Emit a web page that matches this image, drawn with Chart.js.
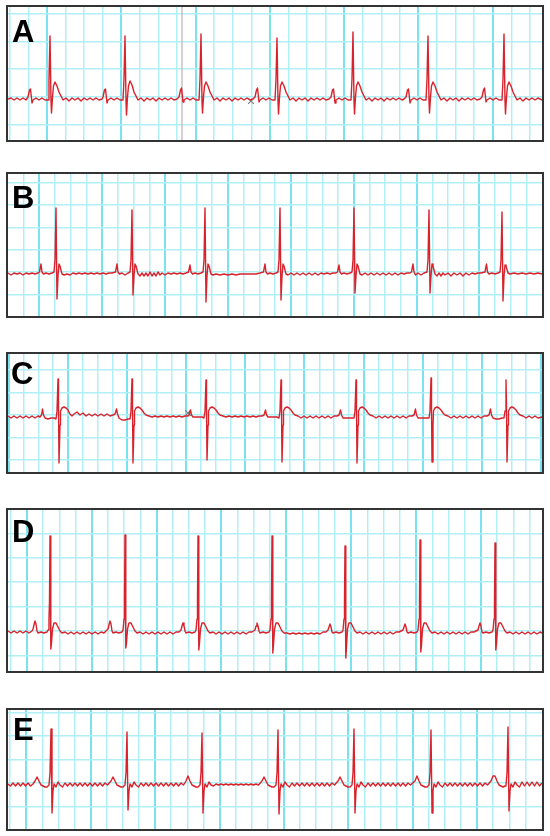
<!DOCTYPE html>
<html>
<head>
<meta charset="utf-8">
<title>ECG strips A-E</title>
<script src="https://cdn.jsdelivr.net/npm/chart.js@4.4.1/dist/chart.umd.min.js"></script>
<style>
  body { margin: 0; background: #fff; }
  .strip { position: absolute; left: 6px; width: 538px; border: 2px solid #333; box-sizing: border-box; background: #fff; }
  .strip canvas { display: block; }
</style>
</head>
<body>
<div class="strip" style="top:5px;height:137px"><canvas id="A" width="534" height="133"></canvas></div>
<div class="strip" style="top:172px;height:146px"><canvas id="B" width="534" height="142"></canvas></div>
<div class="strip" style="top:352px;height:122px"><canvas id="C" width="534" height="118"></canvas></div>
<div class="strip" style="top:508px;height:165px"><canvas id="D" width="534" height="161"></canvas></div>
<div class="strip" style="top:708px;height:123px"><canvas id="E" width="534" height="119"></canvas></div>

<script>
// traces: [sample, amplitude]
const traceA = [
  [8,-2],[11,-1],[14,-3],[17,-1],[20,-3],[23,-1],[26,-3],[28,0],[29.5,7],[30.5,8],[32,-6],[33,-3],[36,-1],[39,-3],[42,-1],[45,-3],[48,-3],
  [49,18],[50,61],[51,-4],[51.5,-16],[52.5,0],[53.5,11],[55,15],[57,11],[59,5],[61,1],[63,-3],
  [66,-1],[69,-4],[72,-1],[75,-3],[78,-1],[81,-4],[84,-1],[87,-3],[90,-1],[93,-3],[96,-1],[99,-3],[102,-2],
  [103,0],[104.5,7],[105.5,8],[107,-6],[108,-3],[111,-1],[114,-3],[117,-1],[120,-3],[123,-3],
  [124,18],[125,61],[126,-4],[126.5,-18],[127.5,0],[128.5,11],[130,16],[132,12],[134,5],[136,1],[138,-3],
  [141,-1],[144,-4],[147,-1],[150,-3],[153,-1],[156,-4],[159,-1],[162,-3],[165,-1],[168,-3],[171,-1],[174,-3],[177,-2],
  [179,0],[180.5,7],[181.5,9],[183,-5],[184,-3],[187,-1],[190,-3],[193,-1],[196,-3],[199,-3],
  [200,18],[201,63],[202,-4],[202.5,-16],[203.5,0],[204.5,11],[206,15],[208,11],[210,5],[212,1],[214,-3],
  [217,-1],[220,-4],[223,-1],[226,-3],[229,-1],[232,-4],[235,-1],[238,-3],[241,-1],[244,-3],[247,-1],[250,-3],[253,-2],
  [255,0],[256.5,7],[257.5,9],[259,-5],[260,-3],[263,-1],[266,-3],[269,-1],[272,-3],[275,-3],
  [276,18],[277,59],[278,-4],[278.5,-17],[279.5,0],[280.5,11],[282,15],[284,11],[286,5],[288,1],[290,-3],
  [293,-1],[296,-4],[299,-1],[302,-3],[305,-1],[308,-4],[311,-1],[314,-3],[317,-1],[320,-3],[323,-1],[326,-3],[329,-2],
  [331,0],[332.5,7],[333.5,8],[335,-6],[336,-3],[339,-1],[342,-3],[345,-1],[348,-3],[351,-3],
  [352,18],[353,65],[354,-4],[354.5,-17],[355.5,0],[356.5,11],[358,15],[360,11],[362,5],[364,1],[366,-3],
  [369,-1],[372,-4],[375,-1],[378,-3],[381,-1],[384,-4],[387,-1],[390,-3],[393,-1],[396,-3],[399,-1],[402,-3],[404,-2],
  [406,0],[407.5,7],[408.5,8],[410,-6],[411,-3],[414,-1],[417,-3],[420,-1],[423,-3],[426,-3],
  [427,18],[428,61],[429,-4],[429.5,-16],[430.5,0],[431.5,11],[433,15],[435,11],[437,5],[439,1],[441,-3],
  [444,-1],[447,-4],[450,-1],[453,-3],[456,-1],[459,-4],[462,-1],[465,-3],[468,-1],[471,-3],[474,-1],[477,-3],[480,-2],
  [482,0],[483.5,7],[484.5,9],[486,-5],[487,-3],[490,-1],[493,-3],[496,-1],[499,-3],[502,-3],
  [503,18],[504,63],[505,-4],[505.5,-17],[506.5,0],[507.5,11],[509,15],[511,11],[513,5],[515,1],[517,-3],
  [520,-1],[523,-4],[526,-1],[529,-3],[532,-1],[535,-3],[538,-1],[542,-3]
];

const traceB = [
  [8,-1],[11,-3],[14,-1],[17,-2],[20,-1],[23,-3],[26,-1],[29,-2],[32,-1],[35,-2],[38,-1],
  [39.5,0],[41,8],[42,0],[43.5,-2],[46,-1],[49,-2],[52,-1],[54,0],
  [55,12],[56,64],[57,-27],[58,-4],[59,8],[60,6],[62,-2],[64,-3],[67,-2],[70,-3],[73,-1],[76,-2],[79,-1],[82,-2],[85,-1],[88,-2],[91,-1],[94,-2],[97,-1],[100,-2],[103,-1],[106,-2],[109,-1],[112,-1],
  [115.5,0],[117,8],[118,0],[119.5,-2],[122,-1],[125,-3],[128,-1],[130,0],
  [131,12],[132,62],[133,-23],[134,-4],[135,8],[136,6],[138,-2],[140,-4],[142,-1],[144,-4],[146,-1],[148,-4],[150,0],[152,-4],[154,-1],[156,-4],[158,0],[160,-3],[162,-1],[165,-3],[168,-1],[171,-2],[174,-1],[177,-2],[180,-1],[183,-2],[186,-1],
  [188.5,0],[190,7],[191,0],[192.5,-2],[195,-1],[198,-2],[201,-1],[203,0],
  [204,12],[205,64],[206,-30],[207,-4],[208,8],[209,6],[211,-2],[213,-3],[216,-2],[220,-3],[224,-2],[228,-3],[232,-2],[236,-3],[240,-2],[244,-2],[248,-2],[252,-2],[256,-2],[260,-1],
  [263.5,0],[265,8],[266,0],[267.5,-2],[270,-1],[273,-2],[276,-1],[278,0],
  [279,12],[280,64],[281,-28],[282,-4],[283,8],[284,6],[286,-2],[288,-3],[291,-1],[294,-3],[297,-1],[300,-3],[303,-1],[306,-3],[309,-1],[312,-3],[315,-1],[318,-3],[321,-1],[324,-2],[327,-1],[330,-2],[333,-1],[336,-1],
  [337.5,0],[339,7],[340,0],[341.5,-2],[344,-1],[347,-2],[350,-1],[352,0],
  [353,12],[354,64],[355,-21],[356,-4],[357,8],[358,6],[360,-2],[362,-3],[365,-1],[368,-3],[371,-1],[374,-3],[377,-1],[380,-3],[383,-1],[386,-3],[389,-1],[392,-3],[395,-1],[398,-3],[401,-1],[404,-2],[407,-1],[410,-1],
  [411.5,0],[413,8],[414,0],[415.5,-3],[418,-1],[421,-3],[424,-1],[427,0],
  [428,12],[429,62],[430,-21],[431,-4],[432,8],[433,6],[435,-2],[437,-4],[439,-1],[441,-4],[443,-1],[445,-3],[448,-1],[451,-4],[454,-1],[457,-3],[460,-1],[463,-4],[466,-1],[469,-3],[472,-1],[475,-2],[478,-1],[481,-1],
  [485,0],[486.5,8],[487.5,0],[489,-2],[492,-1],[495,-2],[498,-1],[500,0],
  [501,12],[502,60],[503,-29],[504,-4],[505,7],[506,6],[508,-1],[510,-2],[514,-1],[518,-2],[522,-1],[526,-2],[530,-1],[534,-2],[538,-1],[542,-2]
];

const traceC = [
  [8,-1],[11,-3],[14,-1],[17,-3],[20,-1],[23,-3],[26,-1],[29,-3],[32,-1],[35,-3],[38,-1],[40,-2],
  [41.5,0],[42.5,6],[43.5,0],[45,-3],[48,-4],[51,-3],[54,-3],
  [56,-4],[57,4],[58,36],[58.5,8],[59,-48],[60,-10],[60.5,4],[62,7],[64,8],[66,7],[68,5],[70,1],[72,-1],
  [74,1],[77,3],[80,0],[83,2],[86,-1],[89,1],[92,-1],[95,1],[98,-1],[101,1],[104,-1],[107,1],[110,-1],[113,0],
  [115,1],[116.5,6],[117.5,1],[119,-3],[122,-5],[125,-5],[128,-4],
  [130,-4],[131,4],[132,36],[132.5,8],[133,-48],[134,-10],[134.5,4],[136,7],[138,8],[140,7],[142,5],[144,2],[146,0],
  [149,-1],[152,-2],[155,-1],[158,-2],[161,-1],[164,-2],[167,-1],[170,-2],[173,-1],[176,-2],[179,-1],[182,-2],[185,-1],[188,-1],
  [189,0],[190.5,5],[191.5,0],[193,-2],[196,-2],[199,-2],[202,-2],
  [204,-3],[205,4],[206,35],[206.5,8],[207,-45],[208,-10],[208.5,4],[210,7],[212,8],[214,7],[216,5],[218,2],[220,0],
  [223,-1],[226,-2],[229,-1],[232,-2],[235,-1],[238,-2],[241,-1],[244,-2],[247,-1],[250,-2],[253,-1],[256,-2],[259,-1],[262,-1],
  [264,0],[265.5,5],[266.5,0],[268,-2],[271,-2],[274,-2],[277,-2],
  [279,-3],[280,4],[281,35],[281.5,8],[282,-47],[283,-10],[283.5,4],[285,7],[287,8],[289,7],[291,5],[293,2],[295,0],
  [298,-1],[301,-3],[304,-1],[307,-3],[310,-1],[313,-3],[316,-1],[319,-3],[322,-1],[325,-3],[328,-1],[331,-3],[334,-1],[337,-1],
  [339,0],[340.5,5],[341.5,0],[343,-3],[346,-3],[349,-3],[352,-3],
  [354,-3],[355,4],[356,35],[356.5,8],[357,-48],[358,-10],[358.5,4],[360,7],[362,8],[364,7],[366,5],[368,2],[370,0],
  [373,-1],[376,-3],[379,-1],[382,-3],[385,-1],[388,-3],[391,-1],[394,-3],[397,-1],[400,-3],[403,-1],[406,-3],[409,-1],[412,-1],
  [414,0],[415.5,6],[416.5,0],[418,-3],[421,-3],[424,-3],[427,-3],
  [429,-3],[430,4],[431,37],[431.5,8],[432,-47],[433,-10],[433.5,4],[435,7],[437,8],[439,7],[441,5],[443,2],[445,0],
  [448,-1],[451,-3],[454,-1],[457,-3],[460,-1],[463,-3],[466,-1],[469,-3],[472,-1],[475,-3],[478,-1],[481,-3],[484,-1],[487,-1],
  [489,0],[490.5,6],[491.5,0],[493,-3],[496,-4],[499,-4],[502,-3],
  [504,-3],[505,4],[506,35],[506.5,8],[507,-47],[508,-10],[508.5,4],[510,7],[512,8],[514,7],[516,5],[518,2],[520,0],
  [523,-1],[526,-3],[529,-1],[532,-3],[535,-1],[538,-3],[542,-2]
];

const traceD = [
  [8,0],[11,-2],[14,0],[17,-2],[20,0],[23,-2],[26,0],[29,-2],[32,0],
  [33,2],[34,6],[35,10],[36,7],[37,0],[38,-2],[41,-1],[44,-2],[47,-1],
  [48,1],[49,12],[49.5,30],[50,95],[50.8,-18],[51.5,-12],[52.5,2],[54,8],[56,8],[58,4],[60,0],[62,-2],
  [65,-1],[68,-3],[71,-1],[74,-3],[77,-1],[80,-3],[83,-1],[86,-3],[89,-1],[92,-3],[95,-1],[98,-3],[101,-1],[104,-2],[106,0],
  [108,2],[109,6],[110,10],[111,7],[112,0],[113,-2],[116,-1],[119,-2],[122,-1],
  [123,1],[124,12],[124.5,30],[125,96],[125.8,-17],[126.5,-12],[127.5,2],[129,8],[131,8],[133,4],[135,0],[137,-2],
  [140,-1],[143,-3],[146,-1],[149,-3],[152,-1],[155,-3],[158,-1],[161,-3],[164,-1],[167,-3],[170,-1],[173,-3],[176,-1],[179,-1],
  [181,1],[182,5],[183,8],[184,5],[185,0],[186,-2],[189,-1],[192,-2],[195,-1],
  [196,1],[197,12],[197.5,30],[198,95],[198.8,-19],[199.5,-12],[200.5,2],[202,8],[204,8],[206,4],[208,0],[210,-2],
  [213,-1],[216,-3],[219,-1],[222,-3],[225,-1],[228,-3],[231,-1],[234,-3],[237,-1],[240,-3],[243,-1],[246,-3],[249,-1],[252,-1],
  [255,1],[256,5],[257,8],[258,5],[259,0],[260,-2],[263,-1],[266,-2],[269,-1],
  [270,1],[271,12],[271.5,30],[272,95],[272.8,-22],[273.5,-14],[274.5,2],[276,8],[278,8],[280,4],[282,0],[284,-2],
  [287,-2],[290,-3],[293,-2],[296,-3],[299,-2],[302,-3],[305,-2],[308,-3],[311,-2],[314,-3],[317,-2],[320,-3],[323,-1],[326,-1],
  [328,1],[329,4],[330,7],[331,4],[332,-1],[333,-2],[336,-1],[339,-2],[342,-1],
  [343,1],[344,12],[344.5,30],[345,85],[345.8,-27],[346.5,-16],[347.5,2],[349,8],[351,8],[353,4],[355,0],[357,-2],
  [360,-1],[363,-3],[366,-1],[369,-3],[372,-1],[375,-3],[378,-1],[381,-3],[384,-1],[387,-3],[390,-1],[393,-3],[396,-1],[399,-1],
  [403,1],[404,4],[405,7],[406,4],[407,-1],[408,-2],[411,-1],[414,-2],[417,-1],
  [418,1],[419,12],[419.5,30],[420,91],[420.8,-21],[421.5,-14],[422.5,2],[424,8],[426,8],[428,4],[430,0],[432,-2],
  [435,-1],[438,-3],[441,-1],[444,-3],[447,-1],[450,-3],[453,-1],[456,-3],[459,-1],[462,-3],[465,-1],[468,-3],[471,-1],[474,-1],
  [478,1],[479,5],[480,8],[481,5],[482,-1],[483,-2],[486,-1],[489,-2],[492,-1],
  [493,1],[494,12],[494.5,30],[495,88],[495.8,-19],[496.5,-12],[497.5,2],[499,8],[501,8],[503,4],[505,0],[507,-2],
  [510,-1],[513,-3],[516,-1],[519,-3],[522,-1],[525,-3],[528,-1],[531,-3],[534,-1],[537,-3],[540,-1],[542,-2]
];

const traceE = [
  [8,-1],[10.5,-3],[13,0],[15.5,-3],[18,0],[20.5,-3],[23,0],[25.5,-3],[28,0],[30.5,-3],[33,-1],
  [35,2],[37,6],[39,2],[41,-2],[43,-3],[45,-4],[47,-4],[49,-2],
  [50,10],[51,54],[52,-30],[53,-8],[54,-1],[56,-4],[58,1],[60,-2],[62.5,-4],[65,0],[67.5,-3],[70,0],[72.5,-3],[75,0],[77.5,-3],[80,0],[82.5,-3],[85,0],[87.5,-3],[90,0],[92.5,-3],[95,0],[97.5,-3],[100,0],[102.5,-3],[105,0],[107.5,-2],
  [111,2],[113,6],[115,2],[117,-2],[119,-3],[121,-4],[123,-4],[125,-2],
  [126,10],[127,51],[128,-27],[129,-8],[130,-1],[132,-4],[134,1],[136,-2],[138.5,-4],[141,0],[143.5,-3],[146,0],[148.5,-3],[151,0],[153.5,-3],[156,0],[158.5,-3],[161,0],[163.5,-3],[166,0],[168.5,-3],[171,0],[173.5,-3],[176,0],[178.5,-3],[181,0],[183.5,-2],
  [186,2],[188,7],[190,2],[192,-2],[194,-3],[196,-4],[198,-4],[200,-2],
  [201,10],[202,50],[203,-30],[204,-8],[205,-1],[207,-4],[209,1],[211,-2],[213.5,-3],[216,-1],[218.5,-2],[221,-1],[223.5,-2],[226,-1],[228.5,-2],[231,-1],[233.5,-2],[236,-1],[238.5,-2],[241,-1],[243.5,-2],[246,-1],[248.5,-2],[251,-1],[253.5,-2],[256,-1],[258.5,-2],
  [262,2],[264,6],[266,2],[268,-2],[270,-3],[272,-4],[274,-4],[276,-2],
  [277,10],[278,53],[279,-31],[280,-8],[281,-1],[283,-4],[285,1],[287,-2],[289.5,-4],[292,0],[294.5,-3],[297,0],[299.5,-3],[302,0],[304.5,-3],[307,0],[309.5,-3],[312,0],[314.5,-3],[317,0],[319.5,-3],[322,0],[324.5,-3],[327,0],[329.5,-3],[332,0],[334.5,-2],
  [338,2],[340,6],[342,2],[344,-2],[346,-3],[348,-4],[350,-4],[352,-2],
  [353,10],[354,54],[355,-30],[356,-8],[357,-1],[359,-4],[361,1],[363,-2],[365.5,-4],[368,0],[370.5,-3],[373,0],[375.5,-3],[378,0],[380.5,-3],[383,0],[385.5,-3],[388,0],[390.5,-3],[393,0],[395.5,-3],[398,0],[400.5,-3],[403,0],[405.5,-3],[408,0],[410.5,-2],
  [415,2],[417,7],[419,2],[421,-2],[423,-3],[425,-4],[427,-4],[429,-2],
  [430,10],[431,53],[432,-30],[433,-8],[434,-1],[436,-4],[438,1],[440,-2],[442.5,-4],[445,0],[447.5,-3],[450,0],[452.5,-3],[455,0],[457.5,-3],[460,0],[462.5,-3],[465,0],[467.5,-3],[470,0],[472.5,-3],[475,0],[477.5,-3],[480,0],[482.5,-3],[485,0],[487.5,-2],
  [491,2],[493,7],[495,7],[497,2],[499,-2],[501,-3],[503,-4],[505,-3],[506,-2],
  [507,10],[508,56],[509,-28],[510,-8],[511,-1],[513,-4],[515,1],[517,-2],[519.5,-4],[522,1],[524.5,-3],[527,1],[529.5,-3],[532,1],[534.5,-3],[537,1],[539.5,-3],[542,0]
];

// annotation crosses left on the strips
const marksA = [[251, -4]];
const marksC = [[188, 2]];
const cursorA = [182];

const labels = ['A', 'B', 'C', 'D', 'E'];

// per-strip scale window and paper grid (sample units / amplitude units)
const strips = [
  { id: 'A', trace: traceA, marks: marksA, cursor: cursorA, yMin: -43, yMax: 90, major0: 47, minor: 18.57, yStep: 27.8, lx: 4, ly: 35 },
  { id: 'B', trace: traceB, marks: [], cursor: [], yMin: -44, yMax: 98, major0: 39.3, minor: 15.72, yStep: 22.3, lx: 4, ly: 34 },
  { id: 'C', trace: traceC, marks: marksC, cursor: [], yMin: -57, yMax: 61, major0: 68, minor: 14.78, yStep: 22.5, lx: 3, ly: 30 },
  { id: 'D', trace: traceD, marks: [], cursor: [], yMin: -40, yMax: 121, major0: 91.7, minor: 16.22, yStep: 24.4, lx: 4, ly: 32 },
  { id: 'E', trace: traceE, marks: [], cursor: [], yMin: -46, yMax: 73, major0: 90.7, minor: 16.1, yStep: 23.5, lx: 5, ly: 30 },
];

const MINOR = '#b0eff5';
const MAJOR = '#7ae2ee';
const TRACE = '#d8232d';

const stripExtras = {
  id: 'stripExtras',
  beforeDatasetsDraw(chart, args, opts) {
    const ctx = chart.ctx, a = chart.chartArea;
    ctx.save();
    ctx.strokeStyle = '#c9bfc6';
    ctx.lineWidth = 1.5;
    opts.cursor.forEach(v => {
      const x = chart.scales.x.getPixelForValue(v);
      ctx.beginPath();
      ctx.moveTo(x, a.top);
      ctx.lineTo(x, a.bottom);
      ctx.stroke();
    });
    ctx.restore();
  },
  afterDraw(chart, args, opts) {
    const ctx = chart.ctx;
    ctx.save();
    ctx.fillStyle = '#000';
    ctx.font = 'bold 31px "Liberation Sans", Arial, sans-serif';
    ctx.textBaseline = 'alphabetic';
    ctx.fillText(opts.label, opts.lx, opts.ly);
    ctx.restore();
  }
};

strips.forEach((p, n) => {
  const canvas = document.getElementById(p.id);
  new Chart(canvas, {
    type: 'line',
    data: {
      datasets: [{
        data: p.trace.map(d => ({ x: d[0], y: d[1] })),
        borderColor: TRACE,
        borderWidth: 1.4,
        borderJoinStyle: 'round',
        pointRadius: 0,
        tension: 0,
      }, {
        data: p.marks.map(d => ({ x: d[0], y: d[1] })),
        showLine: false,
        pointStyle: 'crossRot',
        pointRadius: 4,
        borderColor: '#7d7d7d',
        borderWidth: 1.2,
      }]
    },
    options: {
      responsive: false,
      animation: false,
      events: [],
      layout: { padding: 0, autoPadding: false },
      plugins: {
        legend: { display: false },
        tooltip: { enabled: false },
        stripExtras: { label: labels[n], lx: p.lx, ly: p.ly, cursor: p.cursor },
      },
      scales: {
        x: {
          type: 'linear',
          min: 8,
          max: 542,
          border: { display: false },
          ticks: { display: false },
          grid: {
            drawTicks: false,
            color: c => (c.tick && c.tick.major ? MAJOR : MINOR),
            lineWidth: c => (c.tick && c.tick.major ? 2 : 1.5),
          },
          afterBuildTicks: scale => {
            const ticks = [];
            for (let i = -12; i < 60; i++) {
              const v = p.major0 + i * p.minor;
              if (v > scale.min + 0.5 && v < scale.max - 0.5) ticks.push({ value: v, major: i % 4 === 0 });
            }
            scale.ticks = ticks;
          }
        },
        y: {
          type: 'linear',
          min: p.yMin,
          max: p.yMax,
          border: { display: false },
          ticks: { display: false },
          grid: { drawTicks: false, color: MINOR, lineWidth: 1.5 },
          afterBuildTicks: scale => {
            const ticks = [];
            for (let j = -10; j <= 10; j++) {
              const v = j * p.yStep;
              if (v > scale.min + 0.5 && v < scale.max - 0.5) ticks.push({ value: v });
            }
            scale.ticks = ticks;
          }
        }
      }
    },
    plugins: [stripExtras]
  });
});
</script>
</body>
</html>
